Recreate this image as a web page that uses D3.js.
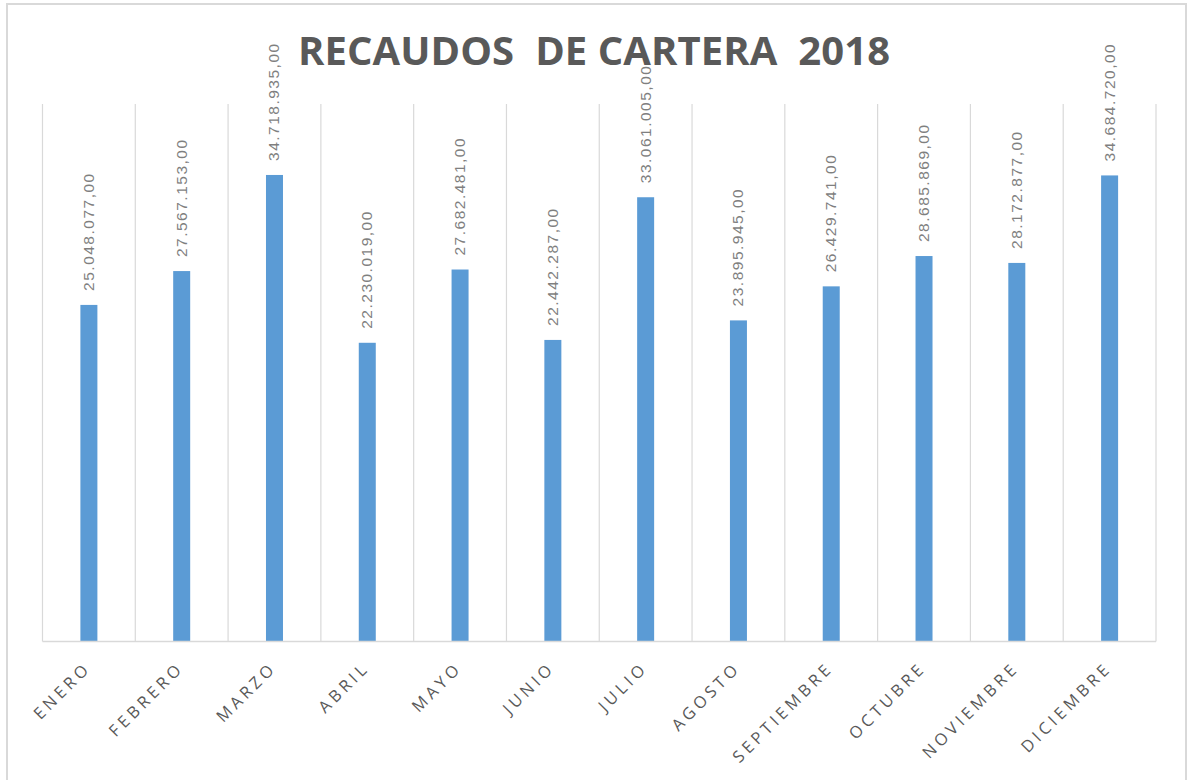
<!DOCTYPE html>
<html>
<head>
<meta charset="utf-8">
<script src="https://cdn.jsdelivr.net/npm/d3@7"></script>
<style>
  html, body { margin: 0; padding: 0; background: #ffffff; }
  svg { display: block; }
</style>
</head>
<body>
<svg id="chart" width="1188" height="780"></svg>
<script>
// Monthly collections (recaudos de cartera), 2018
const months = ["ENERO", "FEBRERO", "MARZO", "ABRIL", "MAYO", "JUNIO",
                "JULIO", "AGOSTO", "SEPTIEMBRE", "OCTUBRE", "NOVIEMBRE", "DICIEMBRE"];
const recaudos = [25048077, 27567153, 34718935, 22230019, 27682481, 22442287,
                  33061005, 23895945, 26429741, 28685869, 28172877, 34684720];
const chartTitle = "RECAUDOS  DE CARTERA  2018";
const yMax = 40000000;

const svg = d3.select("#chart");
const plot = { left: 42.5, right: 1156, top: 104, bottom: 641.5 };

// outer chart frame
svg.append("rect")
  .attr("x", 7).attr("y", 4)
  .attr("width", 1179).attr("height", 790)
  .attr("fill", "#ffffff")
  .attr("stroke", "#d9d9d9")
  .attr("stroke-width", 2);

const x = d3.scaleBand()
  .domain(months)
  .range([plot.left, plot.right])
  .paddingInner(0).paddingOuter(0);

const y = d3.scaleLinear()
  .domain([0, yMax])
  .range([plot.bottom, plot.top]);

// vertical category gridlines at band edges
const edges = months.map(m => x(m)).concat([plot.right]);
svg.append("g")
  .selectAll("line")
  .data(edges)
  .join("line")
  .attr("x1", d => d).attr("x2", d => d)
  .attr("y1", plot.top).attr("y2", plot.bottom)
  .attr("stroke", "#d9d9d9")
  .attr("stroke-width", 1.2);

// bars
const barW = 17;
svg.append("g")
  .selectAll("rect")
  .data(recaudos)
  .join("rect")
  .attr("x", (d, i) => x(months[i]) + x.bandwidth() / 2 - barW / 2)
  .attr("y", d => y(d))
  .attr("width", barW)
  .attr("height", d => y(0) - y(d))
  .attr("fill", "#5b9bd5");

// category axis baseline
svg.append("line")
  .attr("x1", plot.left).attr("x2", plot.right)
  .attr("y1", plot.bottom).attr("y2", plot.bottom)
  .attr("stroke", "#d9d9d9")
  .attr("stroke-width", 1.5);

// value labels, vertical, above each bar
const fmt = v => d3.format(",.2f")(v).replace(/,/g, "#").replace(".", ",").replace(/#/g, ".");
svg.append("g")
  .selectAll("text")
  .data(recaudos)
  .join("text")
  .attr("transform", (d, i) => {
    const cx = x(months[i]) + x.bandwidth() / 2 + 5;
    return `translate(${cx},${y(d) - 14}) rotate(-90)`;
  })
  .attr("text-anchor", "start")
  .attr("font-family", "'Liberation Sans', Arial, sans-serif")
  .attr("font-size", 15.5)
  .attr("letter-spacing", 1.5)
  .attr("fill", "#7f7f7f")
  .text(d => fmt(d));

// category labels, rotated 45°
svg.append("g")
  .selectAll("text")
  .data(months)
  .join("text")
  .attr("transform", d => `translate(${x(d) + x.bandwidth() / 2 + 3},${669}) rotate(-45)`)
  .attr("text-anchor", "end")
  .attr("font-family", "'Open Sans', 'Liberation Sans', sans-serif")
  .attr("font-size", 16.5)
  .attr("letter-spacing", 3.8)
  .attr("fill", "#595959")
  .text(d => d);

// title
svg.append("text")
  .attr("x", 298)
  .attr("y", 65)
  .attr("textLength", 592)
  .attr("lengthAdjust", "spacing")
  .style("white-space", "pre")
  .attr("font-family", "'Open Sans', 'Liberation Sans', sans-serif")
  .attr("font-weight", 700)
  .attr("font-size", 40)
  .attr("fill", "#595959")
  .text(chartTitle);
</script>
</body>
</html>
